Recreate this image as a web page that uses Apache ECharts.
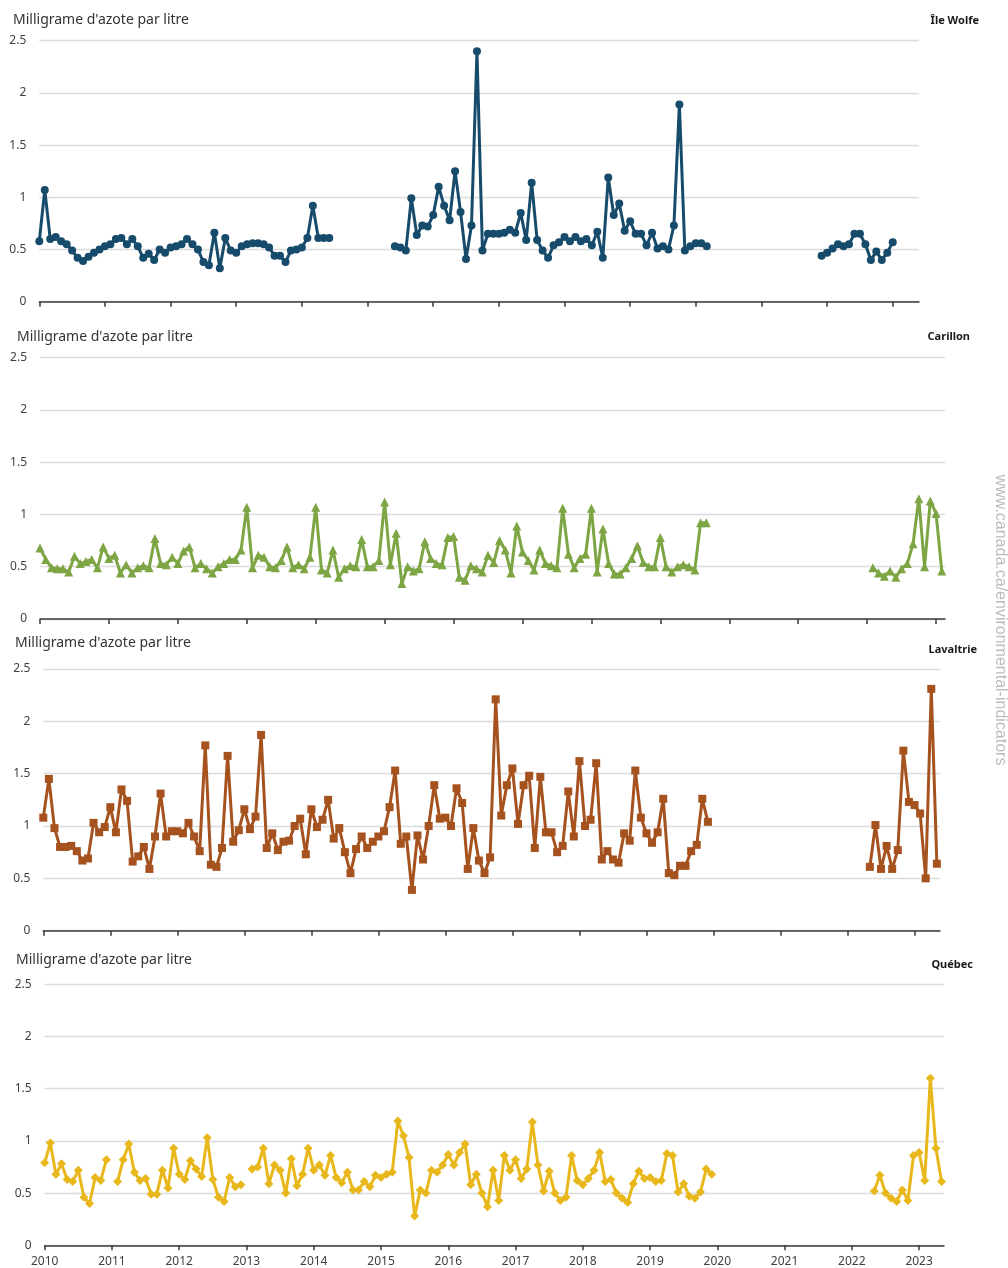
<!DOCTYPE html>
<html><head><meta charset="utf-8">
<script src="https://cdn.jsdelivr.net/npm/echarts@6/dist/echarts.min.js"></script>
<style>html,body{margin:0;padding:0;background:#fff}#c{width:1008px;height:1268px}</style>
</head><body><div id="c"></div>
<script>
const N = null;
const years = [2010,2011,2012,2013,2014,2015,2016,2017,2018,2019,2020,2021,2022,2023];
const stationNames = ['Île Wolfe','Carillon','Lavaltrie','Québec'];
const unitLabel = "Milligrame d'azote par litre";
const sourceText = 'www.canada.ca/environmental-indicators';

// monthly values, one row per year (Jan..Dec), starting 2010
const ileWolfe = [
 [0.58,1.07,0.60,0.62,0.58,0.55,0.49,0.42,0.39,0.43,0.47,0.50],
 [0.53,0.55,0.60,0.61,0.55,0.60,0.53,0.42,0.46,0.40,0.50,0.47],
 [0.52,0.53,0.55,0.60,0.55,0.50,0.38,0.35,0.66,0.32,0.61,0.49],
 [0.47,0.53,0.55,0.56,0.56,0.55,0.52,0.44,0.44,0.38,0.49,0.50],
 [0.52,0.61,0.92,0.61,0.61,0.61],
 [N,N,N,N,N,0.53,0.52,0.49,0.99,0.64,0.73,0.72],
 [0.83,1.10,0.92,0.78,1.25,0.86,0.41,0.73,2.40,0.49,0.65,0.65],
 [0.65,0.66,0.69,0.66,0.85,0.59,1.14,0.59,0.49,0.42,0.54,0.57],
 [0.62,0.58,0.62,0.58,0.60,0.54,0.67,0.42,1.19,0.83,0.94,0.68],
 [0.77,0.65,0.65,0.54,0.66,0.51,0.53,0.50,0.73,1.89,0.49,0.53],
 [0.56,0.56,0.53],
 [N,N,N,N,N,N,N,N,N,N,N,0.44],
 [0.47,0.51,0.55,0.53,0.55,0.65,0.65,0.55,0.40,0.48,0.40,0.47],
 [0.57]
];
const carillon = [
 [0.68,0.57,0.49,0.48,0.48,0.45,0.60,0.53,0.55,0.57,0.49,0.69],
 [0.58,0.61,0.44,0.52,0.44,0.49,0.51,0.49,0.77,0.53,0.52,0.59],
 [0.53,0.65,0.69,0.49,0.53,0.48,0.44,0.50,0.53,0.57,0.57,0.66],
 [1.07,0.49,0.61,0.59,0.50,0.49,0.56,0.69,0.49,0.52,0.48,0.59],
 [1.07,0.47,0.44,0.66,0.40,0.48,0.51,0.50,0.76,0.50,0.50,0.56],
 [1.12,0.52,0.82,0.34,0.50,0.46,0.48,0.74,0.58,0.53,0.52,0.78],
 [0.79,0.40,0.37,0.51,0.48,0.45,0.61,0.54,0.75,0.66,0.44,0.89],
 [0.64,0.56,0.47,0.66,0.53,0.51,0.49,1.06,0.62,0.49,0.58,0.62],
 [1.06,0.45,0.86,0.53,0.43,0.43,0.49,0.58,0.70,0.54,0.50,0.50],
 [0.78,0.50,0.45,0.50,0.52,0.50,0.47,0.92,0.92],
 [],
 [],
 [N,0.49,0.44,0.41,0.46,0.40,0.48,0.53,0.72,1.15,0.50,1.13],
 [1.01,0.46]
];
const lavaltrie = [
 [1.08,1.45,0.98,0.80,0.80,0.81,0.76,0.67,0.69,1.03,0.94,0.99],
 [1.18,0.94,1.35,1.24,0.66,0.71,0.80,0.59,0.90,1.31,0.90,0.95],
 [0.95,0.93,1.03,0.90,0.76,1.77,0.63,0.61,0.79,1.67,0.85,0.96],
 [1.16,0.97,1.09,1.87,0.79,0.93,0.77,0.85,0.86,1.00,1.07,0.73],
 [1.16,0.99,1.06,1.25,0.88,0.98,0.75,0.55,0.78,0.90,0.79,0.85],
 [0.90,0.95,1.18,1.53,0.83,0.90,0.39,0.91,0.68,1.00,1.39,1.07],
 [1.08,1.00,1.36,1.22,0.59,0.98,0.67,0.55,0.70,2.21,1.10,1.39],
 [1.55,1.02,1.39,1.48,0.79,1.47,0.94,0.94,0.75,0.81,1.33,0.90],
 [1.62,1.00,1.06,1.60,0.68,0.76,0.68,0.65,0.93,0.86,1.53,1.08],
 [0.93,0.84,0.94,1.26,0.55,0.53,0.62,0.62,0.76,0.82,1.26,1.04],
 [],
 [],
 [N,N,N,N,0.61,1.01,0.59,0.81,0.59,0.77,1.72,1.23],
 [1.20,1.12,0.50,2.31,0.64]
];
const quebec = [
 [0.79,0.98,0.68,0.78,0.63,0.61,0.72,0.46,0.40,0.65,0.62,0.82],
 [N,0.61,0.82,0.97,0.70,0.62,0.64,0.49,0.49,0.72,0.55,0.93],
 [0.68,0.63,0.81,0.73,0.66,1.03,0.63,0.46,0.42,0.65,0.56,0.58],
 [N,0.73,0.75,0.93,0.59,0.77,0.72,0.50,0.83,0.57,0.68,0.93],
 [0.72,0.77,0.67,0.86,0.65,0.60,0.70,0.53,0.53,0.61,0.56,0.67],
 [0.65,0.68,0.70,1.19,1.05,0.84,0.28,0.53,0.50,0.72,0.70,0.77],
 [0.87,0.77,0.89,0.97,0.58,0.68,0.50,0.37,0.72,0.43,0.86,0.72],
 [0.82,0.64,0.73,1.18,0.77,0.52,0.71,0.50,0.43,0.46,0.86,0.62],
 [0.58,0.64,0.72,0.89,0.61,0.63,0.50,0.45,0.41,0.59,0.71,0.64],
 [0.65,0.61,0.62,0.88,0.86,0.51,0.59,0.47,0.45,0.51,0.73,0.68],
 [],
 [],
 [N,N,N,N,0.52,0.67,0.50,0.45,0.42,0.53,0.43,0.86],
 [0.89,0.62,1.60,0.93,0.61]
];

function toData(rows){
  const out = [];
  years.forEach((y, yi) => {
    for (let m = 0; m < 12; m++) {
      const v = rows[yi] && rows[yi][m] != null ? rows[yi][m] : '-';
      out.push([y + m / 12, v]);
    }
  });
  return out;
}

const stations = [ileWolfe, carillon, lavaltrie, quebec];
const colors = ['#174B6B', '#7DA544', '#A5521F', '#E8B71C'];
const symbols = ['circle', 'triangle', 'rect', 'diamond'];
const symSizes = [8, 9, 8, 9];
const grids = [
  {left: 39.3, right: 89, top: 40.7, height: 261},
  {left: 40, right: 63, top: 357.7, height: 261.3},
  {left: 43.3, right: 68, top: 669, height: 261.7},
  {left: 44.7, right: 64, top: 984.3, height: 261}
];
const xMax = [2023.4, 2023.13, 2023.38, 2023.37];
const unitPos = [[13, 11], [17, 328], [15, 634], [16, 951.5]];
const namePos = [[29, 14], [38, 330], [31, 643], [35, 958]];
const FONT = "'Noto Sans', sans-serif";

const chart = echarts.init(document.getElementById('c'), null, {renderer: 'canvas'});
const titles = [];
stationNames.forEach((n, i) => {
  titles.push({text: unitLabel, left: unitPos[i][0], top: unitPos[i][1], padding: 0,
    textStyle: {fontFamily: FONT, fontSize: 14, fontWeight: 'normal', color: '#333', lineHeight: 18}});
  titles.push({text: n, right: namePos[i][0], top: namePos[i][1], padding: 0,
    textStyle: {fontFamily: FONT, fontSize: 11, fontWeight: 'bold', color: '#1a1a1a', lineHeight: 13}});
});

const option = {
  animation: false,
  backgroundColor: '#fff',
  title: titles,
  grid: grids,
  xAxis: grids.map((g, i) => ({
    type: 'value', gridIndex: i, min: 2010, max: xMax[i],
    axisLine: {show: true, lineStyle: {color: '#3a3a3a', width: 1.5}},
    axisTick: {show: true, length: 5, lineStyle: {color: '#3a3a3a', width: 1.5}, customValues: years},
    axisLabel: {show: i === 3, customValues: years, formatter: v => String(Math.round(v)),
      fontFamily: FONT, fontSize: 12, color: '#404040', margin: 10},
    splitLine: {show: false}
  })),
  yAxis: grids.map((g, i) => ({
    type: 'value', gridIndex: i, min: 0, max: 2.5, interval: 0.5,
    axisLine: {show: false}, axisTick: {show: false},
    axisLabel: {fontFamily: FONT, fontSize: 12, color: '#404040', margin: 13},
    splitLine: {show: true, lineStyle: {color: '#dcdcdc', width: 1.3}}
  })),
  series: stations.map((rows, i) => ({
    type: 'line', xAxisIndex: i, yAxisIndex: i, data: toData(rows),
    symbol: symbols[i], symbolSize: symSizes[i], showAllSymbol: true,
    connectNulls: false,
    lineStyle: {color: colors[i], width: 3},
    itemStyle: {color: colors[i]},
    z: 3
  })),
  graphic: [{
    type: 'text', x: 1000, y: 620, rotation: -Math.PI / 2,
    style: {text: sourceText, fontFamily: "'Liberation Sans', Arial, sans-serif", fontSize: 16,
      fill: '#bdbdbd', textAlign: 'center', textVerticalAlign: 'middle'}
  }]
};
chart.setOption(option);
</script>
</body></html>
